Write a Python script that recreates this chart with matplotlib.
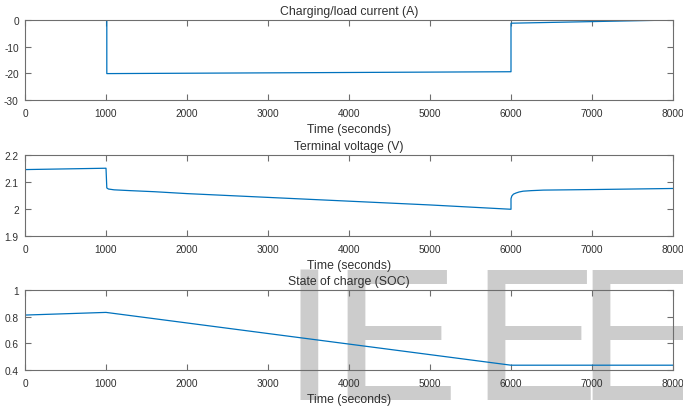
import matplotlib
matplotlib.use("Agg")
import matplotlib.pyplot as plt

plt.rcParams['font.family'] = ['Liberation Sans', 'DejaVu Sans']
plt.rcParams['axes.unicode_minus'] = False

# current (A)
t_cur = [0, 1010, 1010, 6000, 6000, 8000]
i_cur = [0, 0, -20.1, -19.4, -1.2, 0]

# terminal voltage (V)
t_volt = [0, 1000, 1010, 1030, 1100, 1300, 1600, 2000, 2500, 3000, 3500, 4000,
          4500, 5000, 5500, 6000, 6000, 6010, 6030, 6060, 6100, 6150, 6250,
          6400, 7000, 8000]
v_term = [2.146, 2.151, 2.078, 2.074, 2.071, 2.068, 2.064, 2.057, 2.050, 2.043,
          2.036, 2.029, 2.022, 2.015, 2.007, 1.999, 2.038, 2.048, 2.055, 2.059,
          2.063, 2.066, 2.068, 2.070, 2.072, 2.076]

# state of charge
t_soc = [0, 1000, 6000, 8000]
soc = [0.812, 0.832, 0.436, 0.436]

titles = ['Charging/load current (A)', 'Terminal voltage (V)', 'State of charge (SOC)']
ylims = [(-30, 0), (1.9, 2.2), (0.4, 1.0)]
yticks = [[-30, -20, -10, 0], [1.9, 2.0, 2.1, 2.2], [0.4, 0.6, 0.8, 1.0]]
yticklabels = [['-30', '-20', '-10', '0'], ['1.9', '2', '2.1', '2.2'],
               ['0.4', '0.6', '0.8', '1']]
xticks = [0, 1000, 2000, 3000, 4000, 5000, 6000, 7000, 8000]

W, H = 683, 410
fig = plt.figure(figsize=(W / 100, H / 100), dpi=100)

# axes boxes in pixels (left, top, right, bottom)
boxes = [(25, 21, 673, 101), (25, 156, 673, 237), (25, 291, 673, 371)]
series = [(t_cur, i_cur), (t_volt, v_term), (t_soc, soc)]

spine_c = '#6e6e6e'
text_c = '#303030'
for k, (l, tp, r, b) in enumerate(boxes):
    ax = fig.add_axes([l / W, 1 - b / H, (r - l) / W, (b - tp) / H])
    ax.set_facecolor('none')
    x, y = series[k]
    ax.plot(x, y, color='#0072BD', lw=0.9)
    ax.set_xlim(0, 8000)
    ax.set_ylim(*ylims[k])
    ax.set_xticks(xticks)
    ax.set_xticklabels([str(v) for v in xticks])
    ax.set_yticks(yticks[k])
    ax.set_yticklabels(yticklabels[k])
    ax.tick_params(direction='in', length=4, width=0.8, color=spine_c,
                   labelcolor=text_c, labelsize=7.3, top=True, right=True)
    ax.tick_params(axis='x', pad=5.5)
    ax.tick_params(axis='y', pad=4.5)
    for s in ax.spines.values():
        s.set_color(spine_c)
        s.set_linewidth(0.8)
    ax.set_title(titles[k], fontsize=8.8, color=text_c, pad=4.5)
    ax.set_xlabel('Time (seconds)', fontsize=8.8, color=text_c, labelpad=4)

# watermark, behind everything
for ch, xp in zip(['I', 'E', 'E', 'E'], [283, 331, 471, 576]):
    fig.text(xp / W, 10 / H, ch, fontsize=137, color='#cccccc',
             ha='left', va='baseline', zorder=-1)

fig.savefig('out.png', dpi=100)
